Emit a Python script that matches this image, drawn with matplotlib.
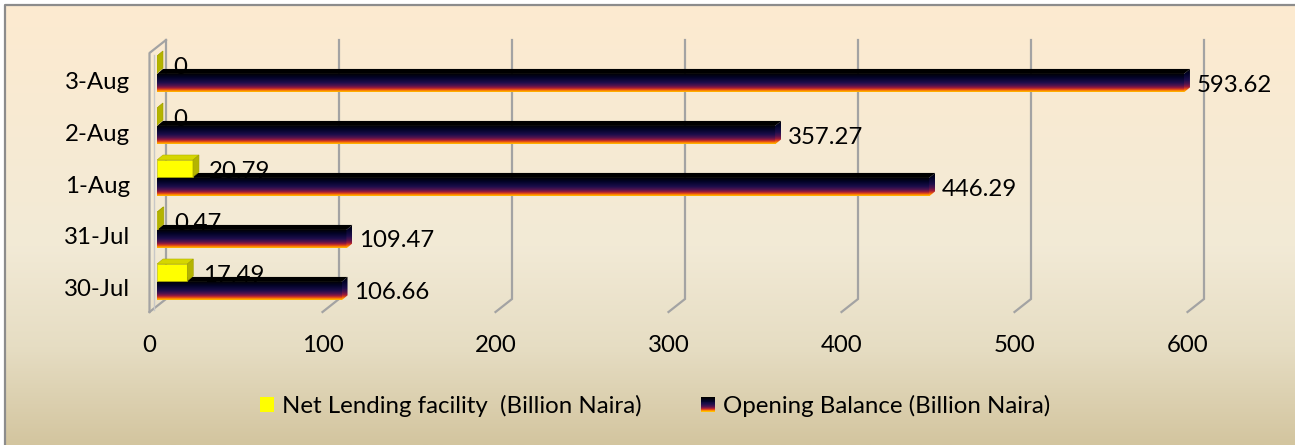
import numpy as np
import matplotlib
matplotlib.use("Agg")
import matplotlib.pyplot as plt
from matplotlib.colors import LinearSegmentedColormap
from matplotlib.patches import Rectangle, Polygon
from matplotlib.legend_handler import HandlerBase

plt.rcParams['font.family'] = ['Lato', 'DejaVu Sans']

# ---------------- data ----------------
categories = ["30-Jul", "31-Jul", "1-Aug", "2-Aug", "3-Aug"]
net_lending = [17.49, 0.47, 20.79, 0, 0]
opening_balance = [106.66, 109.47, 446.29, 357.27, 593.62]
x_ticks = [0, 100, 200, 300, 400, 500, 600]
series_names = ["Net Lending facility  (Billion Naira)", "Opening Balance (Billion Naira)"]

# ---------------- figure / styling ----------------
W, H, DPI = 1295, 445, 100
fig = plt.figure(figsize=(W / DPI, H / DPI), dpi=DPI)
FS = 17.3

# background gradient (inside border)
bg = fig.add_axes([0, 0, 1, 1], zorder=-10)
bg.set_xlim(0, W)
bg.set_ylim(H, 0)
bg.axis('off')
bg_cmap = LinearSegmentedColormap.from_list(
    "bg", [(0, "#FDEBD0"), (0.55, "#F2EAD6"), (0.78, "#E6DDC3"), (1, "#D3C59F")])
grad = np.linspace(0, 1, 256).reshape(-1, 1)
bg.imshow(grad, cmap=bg_cmap, extent=[5, W, H, 4], aspect='auto', zorder=0)
bg.plot([5, 5, W], [H, 4.5, 4.5], color="#8C8C8C", lw=1.6, zorder=1, solid_capstyle='butt')

# main axes = bar plane
ax_left_px, ax_right_px = 157, 157 + 600 * 1.73
ax_top_px, ax_bot_px = 48, 307
ax = fig.add_axes([ax_left_px / W, (H - ax_bot_px) / H,
                   (ax_right_px - ax_left_px) / W, (ax_bot_px - ax_top_px) / H])
ax.patch.set_visible(False)
for s in ax.spines.values():
    s.set_visible(False)
ax.set_xticks([])
ax.set_yticks([])
XLIM = (0, 600)
YLIM = (-0.327, 4.654)
ax.set_xlim(*XLIM)
ax.set_ylim(*YLIM)

px_x = (XLIM[1] - XLIM[0]) / (ax_right_px - ax_left_px)   # data units per px
px_y = (YLIM[1] - YLIM[0]) / (ax_bot_px - ax_top_px)

# 3D offsets
DX, DY = 6 * px_x, 5 * px_y          # bar depth
BX, BY = 9 * px_x, 8 * px_y          # back wall
FX, FY = -7.5 * px_x, -5 * px_y      # front edge

grid_col = "#A3A3A3"
# gridlines on back wall + floor diagonals
for t in x_ticks:
    ax.plot([t + BX, t + BX, t + FX],
            [YLIM[1] + BY, YLIM[0] + BY, YLIM[0] + FY],
            color=grid_col, lw=1.6, clip_on=False, zorder=1, solid_joinstyle='miter')
# left wall
ax.plot([FX, FX, BX], [YLIM[0] + FY, YLIM[1] + FY, YLIM[1] + BY],
        color=grid_col, lw=1.6, clip_on=False, zorder=1)
ax.plot([FX + 4 * px_x, FX + 4 * px_x], [YLIM[0] + FY + 2 * px_y, YLIM[1] + FY - 2 * px_y],
        color="#C8C8C8", lw=1.0, clip_on=False, zorder=1)

# opening balance gradient
ob_cmap = LinearSegmentedColormap.from_list(
    "ob", [(0.0, "#000000"), (0.25, "#04042A"), (0.5, "#1C0E4C"), (0.66, "#50134E"),
           (0.78, "#9A1A3C"), (0.87, "#E44816"), (0.93, "#FF8A00"), (1.0, "#FFC000")])
vgrad = np.linspace(0, 1, 128).reshape(-1, 1)

y_pos = np.arange(len(categories))
OB_LO, OB_HI = -0.20, 0.155
NL_LO, NL_HI = 0.173, 0.50

for i, v in enumerate(opening_balance):
    y0, y1 = y_pos[i] + OB_LO, y_pos[i] + OB_HI
    bar = ax.barh(y_pos[i] + (OB_LO + OB_HI) / 2, v, height=OB_HI - OB_LO,
                  color="none", zorder=3)[0]
    im = ax.imshow(vgrad, cmap=ob_cmap, extent=[0, v, y0, y1], aspect='auto',
                   origin='upper', zorder=3, interpolation='bilinear')
    im.set_clip_path(bar)
    # top face
    ax.add_patch(Polygon([(0, y1), (v, y1), (v + DX, y1 + DY), (DX, y1 + DY)],
                         closed=True, fc="#000000", ec="none", zorder=3))
    # side face
    side = Polygon([(v, y0), (v, y1), (v + DX, y1 + DY), (v + DX, y0 + DY)],
                   closed=True, fc="none", ec="none", zorder=3)
    ax.add_patch(side)
    im2 = ax.imshow(vgrad * 0.95, cmap=ob_cmap, extent=[v, v + DX, y0, y1 + DY],
                    aspect='auto', origin='upper', zorder=3, interpolation='bilinear')
    im2.set_clip_path(side)
    ax.annotate(f"{v:.2f}", xy=(v, y_pos[i]), xytext=(13, -3), textcoords='offset pixels',
                ha='left', va='center', fontsize=FS, color="#000000", zorder=6)

for i, v in enumerate(net_lending):
    y0, y1 = y_pos[i] + NL_LO, y_pos[i] + NL_HI
    ax.barh((y0 + y1) / 2, v, height=y1 - y0, color="#FFFF00", edgecolor="#B5B500",
            linewidth=0.4, zorder=4)
    ax.add_patch(Polygon([(0, y1), (v, y1), (v + DX, y1 + DY), (DX, y1 + DY)],
                         closed=True, fc="#D6D600", ec="#B0B000", lw=0.4, zorder=4))
    ax.add_patch(Polygon([(v, y0), (v, y1), (v + DX, y1 + DY), (v + DX, y0 + DY)],
                         closed=True, fc="#B4B400", ec="#A0A000", lw=0.4, zorder=4))
    lbl = f"{v:g}" if v != 0 else "0"
    ax.annotate(lbl, xy=(v, (y0 + y1) / 2), xytext=(16, -3), textcoords='offset pixels',
                ha='left', va='center', fontsize=FS, color="#000000", zorder=2)

# x tick labels (front edge)
for t in x_ticks:
    ax.annotate(str(t), xy=(t, 0), xycoords=('data', 'axes fraction'),
                xytext=(-7.5, -38), textcoords='offset pixels',
                ha='center', va='center', fontsize=FS, color="#000000")
# category labels
for i, c in enumerate(categories):
    ax.annotate(c, xy=(0, y_pos[i]), xytext=(-27, 0), textcoords='offset pixels',
                ha='right', va='center', fontsize=FS, color="#000000")


# legend
class HandlerGradient(HandlerBase):
    def create_artists(self, legend, orig_handle, xdescent, ydescent, width, height,
                       fontsize, trans):
        n = 16
        arts = []
        for k in range(n):
            col = ob_cmap(k / (n - 1))
            r = Rectangle((-xdescent, -ydescent + height * (1 - (k + 1) / n)), width,
                          height / n, fc=col, ec='none', transform=trans)
            arts.append(r)
        return arts


h1 = Rectangle((0, 0), 1, 1, fc="#FFFF00", ec="none")
h2 = Rectangle((0, 0), 1, 1, fc="#000000", ec="none")
leg = fig.legend([h1, h2], series_names, loc='center', bbox_to_anchor=(0.506, 0.088),
                 ncol=2, frameon=False, fontsize=FS, handlelength=0.58, handleheight=0.62,
                 handletextpad=0.33, columnspacing=2.46,
                 handler_map={h2: HandlerGradient()})

fig.savefig("out.png", dpi=DPI)
